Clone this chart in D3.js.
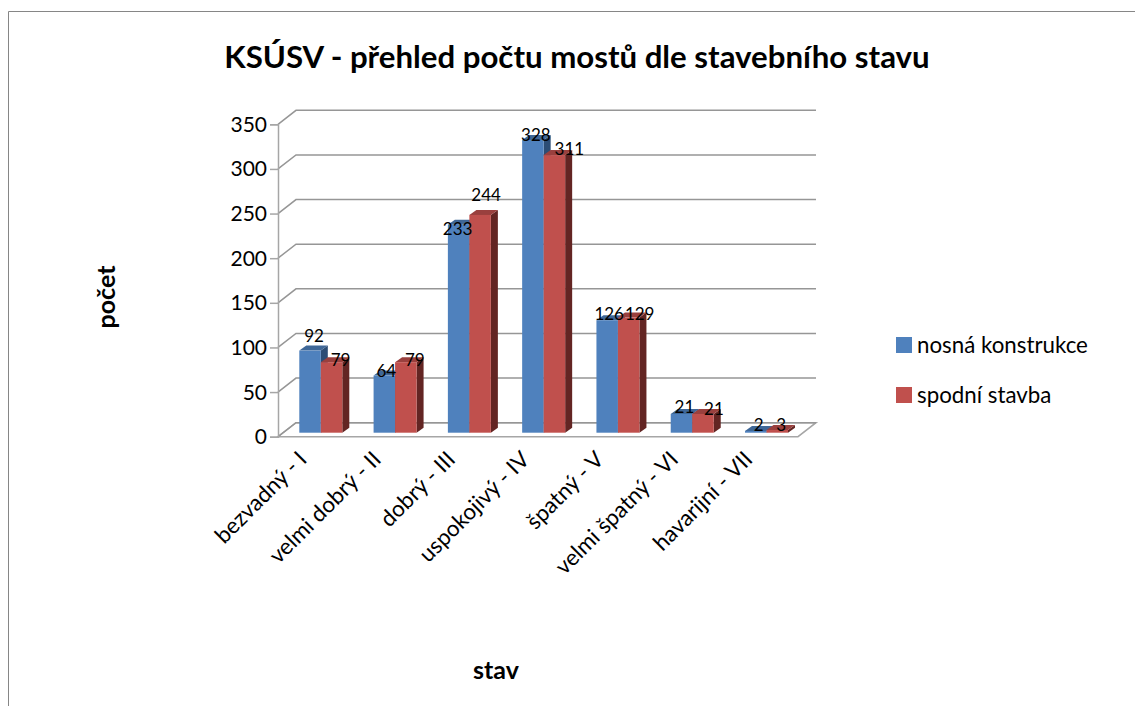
<!DOCTYPE html>
<html lang="cs">
<head>
<meta charset="utf-8">
<script src="https://cdn.jsdelivr.net/npm/d3@7"></script>
<style>
  body { margin: 0; background: #fff; }
  svg { display: block; }
  text { font-family: Lato, "Open Sans", sans-serif; fill: #000; }
</style>
</head>
<body>
<div id="chart"></div>
<script>
// data
const categories = ["bezvadný - I", "velmi dobrý - II", "dobrý - III", "uspokojivý - IV", "špatný - V", "velmi špatný - VI", "havarijní - VII"];
const seriesNames = ["nosná konstrukce", "spodní stavba"];
const nosnaKonstrukce = [92, 64, 233, 328, 126, 21, 2];
const spodniStavba = [79, 79, 244, 311, 129, 21, 3];
const yTicks = [0, 50, 100, 150, 200, 250, 300, 350];

const colors = [
    { front: "#4f81bd", top: "#3f6797", side: "#2c4d75" },
    { front: "#c0504d", top: "#9a403e", side: "#632523" }
];

// hand placed data labels, the original chart has them moved around a bit
const labelShift = [
    [[4, -15], [2, -5], [-1, 4], [3, -5], [2, -6], [3, -7], [3, -6]],
    [[9, -2], [9, -2], [6, -20], [15, -6], [11, -4], [11, -5], [4, -5]]
];

const width = 1135, height = 706;
const wall = { dx: 18, dy: -14 };   // depth of the chart box
const bar = { dx: 7, dy: -5 };      // depth of one bar

const svg = d3.select("#chart").append("svg")
    .attr("width", width)
    .attr("height", height);

// outer frame, runs off the picture right and bottom
svg.append("path")
    .attr("d", `M${width},11.5H8.5V${height}`)
    .attr("fill", "none")
    .attr("stroke", "#868686")
    .attr("stroke-width", 1);

const x0 = d3.scaleBand().domain(categories).range([278, 798]);
const x1 = d3.scaleBand().domain(seriesNames).range([0, 43]);
const y = d3.scaleLinear().domain([0, 350]).range([436.7, 124.3]);
const groupLeft = 21.3;
const baseLift = 4;

// floor and walls
const walls = svg.append("g").attr("fill", "none").attr("stroke", "#a6a6a6");

walls.append("path")
    .attr("d", `M278,${y(0)}H798L${798 + wall.dx},${y(0) + wall.dy}H${278 + wall.dx}Z`)
    .attr("stroke-width", 1.5);

walls.selectAll(".grid")
    .data(yTicks)
    .join("path")
    .attr("class", "grid")
    .attr("d", d => `M278,${y(d)}L${278 + wall.dx},${y(d) + wall.dy}H${798 + wall.dx}`)
    .attr("stroke", "#969696")
    .attr("stroke-width", 1.5);

// y axis
const yAxis = svg.append("g")
    .attr("transform", "translate(278,0)")
    .call(d3.axisLeft(y).tickValues(yTicks).tickSize(8).tickPadding(3).tickFormat(d3.format("d")));
yAxis.selectAll("path, line").attr("stroke", "#a6a6a6").attr("stroke-width", 1.5);
yAxis.selectAll("text").attr("font-size", 21).attr("font-family", "Lato").attr("dy", "0.33em");

// x axis, labels only
const xAxis = svg.append("g")
    .attr("transform", `translate(0,${y(0)})`)
    .call(d3.axisBottom(x0).tickSize(0).tickPadding(0));
xAxis.select(".domain").remove();
xAxis.selectAll("text")
    .attr("font-size", 22.4)
    .attr("font-family", "Lato")
    .attr("text-anchor", "end")
    .attr("dy", 0)
    .attr("y", 0)
    .attr("transform", "translate(-7,24) rotate(-45)");

// bars
const seriesValues = [nosnaKonstrukce, spodniStavba];
const rows = categories.flatMap((c, i) => seriesNames.map((s, j) => ({
    category: c, series: s, value: seriesValues[j][i], i: i, j: j
})));

const bars = svg.append("g").selectAll("g")
    .data(rows)
    .join("g");

const barX = d => x0(d.category) + groupLeft + x1(d.series);
const barTop = d => y(d.value) - baseLift;
const barBottom = y(0) - baseLift;

bars.append("path")
    .attr("fill", d => colors[d.j].side)
    .attr("d", d => {
        const r = barX(d) + x1.bandwidth();
        return `M${r},${barTop(d)}l${bar.dx},${bar.dy}V${barBottom + bar.dy}L${r},${barBottom}Z`;
    });

bars.append("path")
    .attr("fill", d => colors[d.j].top)
    .attr("d", d => `M${barX(d)},${barTop(d)}l${bar.dx},${bar.dy}h${x1.bandwidth()}l${-bar.dx},${-bar.dy}Z`);

bars.append("rect")
    .attr("fill", d => colors[d.j].front)
    .attr("x", barX)
    .attr("y", barTop)
    .attr("width", x1.bandwidth())
    .attr("height", d => barBottom - barTop(d));

// data labels go on top of all bars
svg.append("g").selectAll("text")
    .data(rows)
    .join("text")
    .attr("x", d => barX(d) + x1.bandwidth() / 2 + labelShift[d.j][d.i][0])
    .attr("y", d => barTop(d) + labelShift[d.j][d.i][1])
    .attr("dy", "0.36em")
    .attr("text-anchor", "middle")
    .attr("font-size", 17)
    .text(d => d.value);

// titles
svg.append("text")
    .attr("x", 577).attr("y", 68)
    .attr("text-anchor", "middle")
    .attr("font-size", 31.2).attr("font-weight", 700)
    .text("KSÚSV - přehled počtu mostů dle stavebního stavu");

svg.append("text")
    .attr("transform", "translate(115,297) rotate(-90)")
    .attr("text-anchor", "middle")
    .attr("font-size", 25).attr("font-weight", 700)
    .text("počet");

svg.append("text")
    .attr("x", 496).attr("y", 679)
    .attr("text-anchor", "middle")
    .attr("font-size", 25).attr("font-weight", 700)
    .text("stav");

// legend
const legend = svg.append("g").selectAll("g")
    .data(seriesNames)
    .join("g")
    .attr("transform", (d, i) => `translate(896,${337 + i * 50})`);

legend.append("rect")
    .attr("width", 16).attr("height", 16)
    .attr("fill", (d, i) => colors[i].front);

legend.append("text")
    .attr("x", 21).attr("y", 16)
    .attr("font-size", 22.3)
    .text(d => d);
</script>
</body>
</html>
